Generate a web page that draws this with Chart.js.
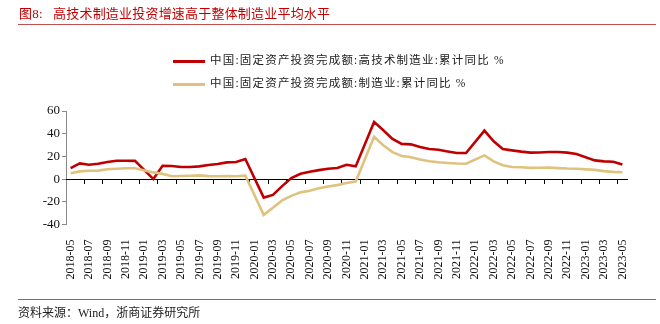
<!DOCTYPE html>
<html>
<head>
<meta charset="utf-8">
<script src="https://cdn.jsdelivr.net/npm/chart.js@4"></script>
<style>
  body { margin: 0; background: #fff; }
  #wrap { position: relative; width: 660px; height: 324px; overflow: hidden;
          font-family: "Liberation Serif", "Noto Sans CJK SC", serif; }
  #chart { position: absolute; left: 0; top: 0; }
  .title { position: absolute; left: 19px; top: 3px; font-size: 13px; color: #c00000; white-space: nowrap; letter-spacing: 0.2px; }
  .rule { position: absolute; left: 18px; width: 638px; height: 1px; background: #c0504d; }
  .legend { position: absolute; left: 173px; font-size: 11.5px; color: #222; white-space: nowrap; letter-spacing: 1.2px; }
  .legend i { display: inline-block; width: 32px; height: 3px; vertical-align: middle; margin-right: 5px; }
  .source { position: absolute; left: 18px; top: 303px; font-size: 12px; color: #222; white-space: nowrap; }
</style>
</head>
<body>
<div id="wrap">
  <canvas id="chart" width="660" height="324"></canvas>
  <div class="title">图8:&nbsp;&nbsp;&nbsp;高技术制造业投资增速高于整体制造业平均水平</div>
  <div class="rule" style="top:24px"></div>
  <div class="legend" style="top:51px"><i style="background:#c00000"></i>中国:固定资产投资完成额:高技术制造业:累计同比 %</div>
  <div class="legend" style="top:74px"><i style="background:#dfc27d"></i>中国:固定资产投资完成额:制造业:累计同比 %</div>
  <div class="rule" style="top:299px"></div>
  <div class="source">资料来源：Wind，浙商证券研究所</div>
</div>
<script>
// monthly categories, January has no separate release (null)
const months = [
  '2018-05','2018-06','2018-07','2018-08','2018-09','2018-10','2018-11','2018-12',
  '2019-01','2019-02','2019-03','2019-04','2019-05','2019-06','2019-07','2019-08',
  '2019-09','2019-10','2019-11','2019-12','2020-01','2020-02','2020-03','2020-04',
  '2020-05','2020-06','2020-07','2020-08','2020-09','2020-10','2020-11','2020-12',
  '2021-01','2021-02','2021-03','2021-04','2021-05','2021-06','2021-07','2021-08',
  '2021-09','2021-10','2021-11','2021-12','2022-01','2022-02','2022-03','2022-04',
  '2022-05','2022-06','2022-07','2022-08','2022-09','2022-10','2022-11','2022-12',
  '2023-01','2023-02','2023-03','2023-04','2023-05'
];

// 高技术制造业 累计同比 %
const hiTech = [
  9.7, 13.8, 12.7, 13.5, 15.0, 16.2, 16.2, 16.1,
  null, 0, 11.8, 11.6, 10.6, 10.6, 11.2, 12.4,
  13.3, 14.7, 15.0, 17.7, null, -16.3, -13.9, -6.2,
  0.9, 4.7, 6.5, 7.9, 9.1, 9.7, 12.6, 11.2,
  null, 50.4, 43.0, 35.4, 31.0, 30.6, 28.3, 26.5,
  25.9, 24.4, 23.0, 23.0, null, 42.7, 33.3, 26.5,
  25.3, 24.2, 23.3, 23.4, 23.9, 23.9, 23.3, 22.1,
  null, 16.5, 15.6, 15.3, 12.8
];

// 制造业 累计同比 %
const manufacturing = [
  5.2, 6.8, 7.3, 7.5, 8.7, 9.1, 9.5, 9.5,
  null, 5.9, 4.6, 2.5, 2.7, 3.0, 3.3, 2.6,
  2.5, 2.6, 2.5, 3.1, null, -31.5, -25.2, -18.8,
  -14.8, -11.7, -10.2, -8.1, -6.5, -5.3, -3.5, -2.2,
  null, 37.3, 29.8, 23.8, 20.4, 19.2, 17.3, 15.7,
  14.8, 14.2, 13.7, 13.5, null, 20.9, 15.6, 12.2,
  10.6, 10.4, 9.9, 10.0, 10.1, 9.7, 9.3, 9.1,
  null, 8.1, 7.0, 6.4, 6.0
];

const yTicks = [-40, -20, 0, 20, 40, 60];

const serif = '"Liberation Serif", "Times New Roman", serif';

new Chart(document.getElementById('chart'), {
  type: 'line',
  data: {
    labels: months,
    datasets: [
      { label: '中国:固定资产投资完成额:制造业:累计同比 %', data: manufacturing,
        borderColor: '#dfc27d', borderWidth: 2.6, pointRadius: 0, tension: 0, spanGaps: true },
      { label: '中国:固定资产投资完成额:高技术制造业:累计同比 %', data: hiTech,
        borderColor: '#c00000', borderWidth: 2.6, pointRadius: 0, tension: 0, spanGaps: true }
    ]
  },
  options: {
    responsive: false,
    animation: false,
    layout: { padding: { top: 111, right: 33, left: 0, bottom: 0 } },
    plugins: { legend: { display: false }, tooltip: { enabled: false } },
    scales: {
      y: {
        min: yTicks[0],
        max: yTicks[yTicks.length - 1],
        afterFit: s => { s.width = 66; },
        afterBuildTicks: s => { s.ticks = yTicks.map(v => ({ value: v })); },
        grid: { drawOnChartArea: false, drawTicks: true, tickLength: 4, color: '#888' },
        border: { color: '#888', width: 1 },
        ticks: { color: '#111', font: { family: serif, size: 13 }, padding: 2 }
      },
      x: {
        offset: true,
        afterFit: s => { s.height = 99.5; },
        grid: { display: false },
        border: { display: false },
        ticks: {
          autoSkip: false, minRotation: 90, maxRotation: 90, padding: 7,
          color: '#111', font: { family: serif, size: 12 },
          callback: (v, i) => (i % 2 === 0 ? months[i] : null)
        }
      },
      // axis line drawn along zero
      x0: {
        type: 'category',
        position: { y: 0 },
        offset: true,
        grid: {
          offset: true, drawOnChartArea: false, drawTicks: true, tickLength: 4,
          tickColor: ctx => (ctx.index > 0 && ctx.index % 2 === 0 ? '#000' : 'rgba(0,0,0,0)')
        },
        border: { display: true, color: '#000', width: 1 },
        ticks: { display: false }
      }
    }
  }
});
</script>
</body>
</html>
